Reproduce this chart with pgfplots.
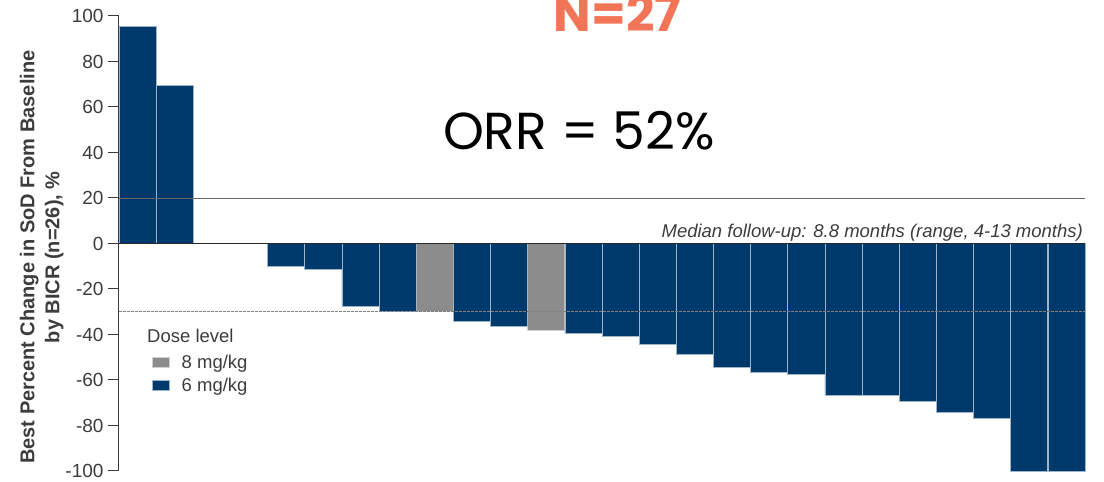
\documentclass[border=0pt]{standalone}
\usepackage{fontspec}
\setmainfont{Liberation Sans}
\newfontfamily\popp{Poppins}
\usepackage{pgfplots}
\pgfplotsset{compat=1.18}
\definecolor{navy}{RGB}{0,57,108}
\definecolor{dgray}{RGB}{140,140,140}
\definecolor{orng}{RGB}{243,117,87}
\definecolor{txt}{RGB}{60,60,60}
\begin{document}
\begin{tikzpicture}
\begin{axis}[
  scale only axis, width=966pt, height=455pt,
  xmin=0.5, xmax=26.5, ymin=-100, ymax=100,
  axis x line=none, axis y line*=left,
  ytick={-100,-80,...,100},
  tick align=outside, major tick length=11pt,
  y axis line style={color=txt, line width=1pt},
  ytick style={color=txt, line width=1pt},
  yticklabel style={font=\fontsize{19}{19}\selectfont, color=txt, xshift=-1pt},
  /pgf/number format/assume math mode=true,
  ylabel={Best Percent Change in SoD From Baseline\\by BICR (n=26), \%},
  ylabel style={font=\bfseries\fontsize{20}{25}\selectfont, color=txt, align=center, at={(axis description cs:-0.08,0.47)}, anchor=center},
  ybar, bar width=37.15pt, bar shift=0pt,
  legend image code/.code={\fill[#1] (0pt,-5pt) rectangle (17pt,5pt); \path (27pt,0pt);},
  legend style={at={(rel axis cs:0.034,0.259)}, anchor=north west, draw=none, fill=none,
    font=\fontsize{18.5}{18.5}\selectfont, text=txt, row sep=4pt, inner sep=0pt, cells={anchor=west}},
  clip=false,
]
\addplot[fill=dgray, draw=white!60!dgray, line width=0.7pt] coordinates {(9,-30) (12,-38.1)};
\addlegendentry{8 mg/kg}
\addplot[fill=navy, draw=white!62!navy, line width=0.7pt] coordinates {
(1,95.6) (2,69.4) (5,-10) (6,-11.5) (7,-27.5) (8,-30) (10,-34.4) (11,-36.2)
(13,-39.7) (14,-40.6) (15,-44.2) (16,-48.6) (17,-54.4) (18,-56.6) (19,-57.3)
(20,-66.8) (21,-66.8) (22,-69.3) (23,-74.1) (24,-77.0) (25,-100) (26,-100)};
\addlegendentry{6 mg/kg}
\draw[color=black!60, line width=0.8pt] (axis cs:0.5,20) -- (axis cs:26.5,20);
\draw[color=black!50, line width=1.1pt, dash pattern=on 3pt off 1pt] (axis cs:0.5,-30) -- (axis cs:26.5,-30);
\draw[color=black!85, line width=1pt] (axis cs:0.5,0) -- (axis cs:26.5,0);
\node[anchor=base west, font=\fontsize{18.5}{18}\selectfont, text=txt, inner sep=0pt] at (rel axis cs:0.029,0.282) {Dose level};
\node[anchor=base east, font=\itshape\fontsize{18.5}{18}\selectfont, text=txt, inner sep=0pt] at (rel axis cs:0.998,0.514) {Median follow-up: 8.8 months (range, 4-13 months)};
\node[anchor=base, font=\popp\fontsize{52}{52}\selectfont, inner sep=0pt] at (rel axis cs:0.476,0.7055) {ORR = 52\%};
\node[anchor=base, font=\popp\bfseries\fontsize{50}{50}\selectfont, text=orng, inner sep=0pt] at (rel axis cs:0.516,0.965) {N=27};
\end{axis}
\pgfresetboundingbox
\useasboundingbox (-119pt,-11pt) rectangle (985pt,471pt);
\end{tikzpicture}
\end{document}
